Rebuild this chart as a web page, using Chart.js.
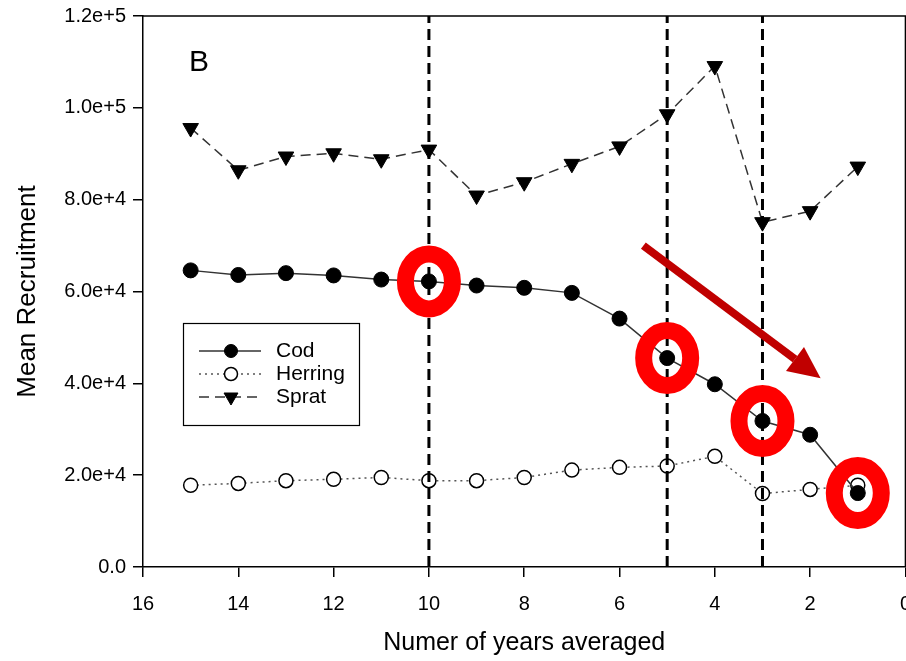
<!doctype html>
<html lang="en">
  <head>
    <meta charset="UTF-8" />
    <title>Mean Recruitment</title>
    <script src="https://cdn.jsdelivr.net/npm/chart.js"></script>
    <style>
      html, body { margin: 0; padding: 0; background: #fff; overflow: hidden; }
      .chart-container { position: relative; width: 926px; height: 661px; }
    </style>
  </head>
  <body>
    <div class="chart-container">
      <canvas id="recruitChart"></canvas>
    </div>

    <script>
      // Data
      const years = [15, 14, 13, 12, 11, 10, 9, 8, 7, 6, 5, 4, 3, 2, 1];
      const cod = [64600, 63600, 64000, 63500, 62600, 62200, 61300, 60800, 59700, 54100, 45500, 39800, 31800, 28800, 16100];
      const herring = [17800, 18200, 18800, 19100, 19500, 18800, 18800, 19500, 21100, 21700, 22000, 24100, 16000, 16900, 17800];
      const sprat = [95600, 86400, 89400, 90100, 88800, 90900, 80900, 83800, 87800, 91600, 98600, 109100, 75100, 77500, 87200];
      const xTicks = [16, 14, 12, 10, 8, 6, 4, 2, 0];
      const yTicks = [0, 20000, 40000, 60000, 80000, 100000, 120000];
      const vLines = [10, 5, 3];
      const circled = [10, 5, 3, 1];
      const arrowFrom = [5.5, 70000];
      const arrowTo = [1.78, 41100];

      Chart.defaults.font.family = "'Liberation Sans', Arial, sans-serif";
      Chart.defaults.color = "#000";

      const pts = (vals) => years.map((yr, i) => ({ x: yr, y: vals[i] }));

      const extras = {
        id: "extras",
        afterDatasetsDraw(chart) {
          const { ctx, chartArea: a, scales } = chart;
          const x = scales.x, y = scales.y;
          ctx.save();

          // top and right frame
          ctx.strokeStyle = "#000";
          ctx.lineWidth = 1.5;
          ctx.beginPath();
          ctx.moveTo(a.left, a.top);
          ctx.lineTo(a.right, a.top);
          ctx.lineTo(a.right, a.bottom);
          ctx.stroke();

          // vertical dashed markers
          ctx.lineWidth = 3;
          ctx.setLineDash([11, 6]);
          vLines.forEach((v) => {
            const px = x.getPixelForValue(v);
            ctx.beginPath();
            ctx.moveTo(px, a.bottom);
            ctx.lineTo(px, a.top);
            ctx.stroke();
          });
          ctx.setLineDash([]);

          // panel letter
          ctx.fillStyle = "#000";
          ctx.font = "30px 'Liberation Sans', Arial, sans-serif";
          ctx.textAlign = "left";
          ctx.textBaseline = "middle";
          ctx.fillText("B", a.left + 46, a.top + 47);

          // legend
          const lx = a.left + 40, ly = a.top + 307;
          ctx.lineWidth = 1.2;
          ctx.strokeStyle = "#000";
          ctx.strokeRect(lx + 0.5, ly + 0.5, 176, 102);
          const items = chart.data.datasets;
          items.forEach((ds, i) => {
            const cy = ly + 28 + i * 23;
            ctx.save();
            ctx.strokeStyle = ds.borderColor;
            ctx.lineWidth = ds.borderWidth;
            ctx.setLineDash(ds.borderDash || []);
            ctx.beginPath();
            ctx.moveTo(lx + 16, cy);
            ctx.lineTo(lx + 78, cy);
            ctx.stroke();
            ctx.restore();
            const mx = lx + 48;
            ctx.fillStyle = ds.pointBackgroundColor;
            ctx.strokeStyle = "#000";
            ctx.lineWidth = ds.pointBorderWidth;
            ctx.beginPath();
            if (ds.pointStyle === "triangle") {
              const r = 8;
              ctx.moveTo(mx - r * 0.87, cy - r * 0.5);
              ctx.lineTo(mx + r * 0.87, cy - r * 0.5);
              ctx.lineTo(mx, cy + r);
              ctx.closePath();
            } else {
              ctx.arc(mx, cy, 6.5, 0, Math.PI * 2);
            }
            ctx.fill();
            ctx.stroke();
            ctx.fillStyle = "#000";
            ctx.font = "21px 'Liberation Sans', Arial, sans-serif";
            ctx.textBaseline = "middle";
            ctx.fillText(ds.label, lx + 93, cy);
          });

          // red rings around selected cod points
          ctx.strokeStyle = "#ff0000";
          ctx.lineWidth = 17;
          circled.forEach((v) => {
            const i = years.indexOf(v);
            const px = x.getPixelForValue(v);
            const py = y.getPixelForValue(cod[i]);
            ctx.beginPath();
            ctx.ellipse(px, py, 23.5, 27.5, 0, 0, Math.PI * 2);
            ctx.stroke();
          });

          // trend arrow
          const x0 = x.getPixelForValue(arrowFrom[0]), y0 = y.getPixelForValue(arrowFrom[1]);
          const x1 = x.getPixelForValue(arrowTo[0]), y1 = y.getPixelForValue(arrowTo[1]);
          const ang = Math.atan2(y1 - y0, x1 - x0);
          const headLen = 32, headW = 15;
          const bx = x1 - headLen * Math.cos(ang), by = y1 - headLen * Math.sin(ang);
          ctx.strokeStyle = "#c00000";
          ctx.fillStyle = "#c00000";
          ctx.lineWidth = 8;
          ctx.beginPath();
          ctx.moveTo(x0, y0);
          ctx.lineTo(bx, by);
          ctx.stroke();
          ctx.beginPath();
          ctx.moveTo(x1, y1);
          ctx.lineTo(bx + headW * Math.sin(ang), by - headW * Math.cos(ang));
          ctx.lineTo(bx - headW * Math.sin(ang), by + headW * Math.cos(ang));
          ctx.closePath();
          ctx.fill();

          ctx.restore();
        },
      };

      new Chart(document.getElementById("recruitChart"), {
        type: "scatter",
        data: {
          datasets: [
            {
              label: "Cod",
              data: pts(cod),
              showLine: true,
              borderColor: "#333",
              borderWidth: 1.5,
              pointStyle: "circle",
              pointRadius: 7.5,
              pointBackgroundColor: "#000",
              pointBorderColor: "#000",
              pointBorderWidth: 1,
            },
            {
              label: "Herring",
              data: pts(herring),
              showLine: true,
              borderColor: "#555",
              borderWidth: 1.5,
              borderDash: [2, 4],
              pointStyle: "circle",
              pointRadius: 7,
              pointBackgroundColor: "#fff",
              pointBorderColor: "#000",
              pointBorderWidth: 1.5,
            },
            {
              label: "Sprat",
              data: pts(sprat),
              showLine: true,
              borderColor: "#333",
              borderWidth: 1.5,
              borderDash: [10, 6],
              pointStyle: "triangle",
              pointRotation: 180,
              pointRadius: 9,
              pointBackgroundColor: "#000",
              pointBorderColor: "#000",
              pointBorderWidth: 1,
            },
          ],
        },
        options: {
          responsive: true,
          maintainAspectRatio: false,
          animation: false,
          layout: { padding: { top: 1, left: 0, right: 0, bottom: 0 } },
          plugins: { legend: { display: false }, tooltip: { enabled: false } },
          scales: {
            x: {
              type: "linear",
              reverse: true,
              min: 0,
              max: 16,
              afterBuildTicks: (s) => { s.ticks = xTicks.map((v) => ({ value: v })); },
              ticks: { font: { size: 20 }, padding: 15, maxRotation: 0 },
              grid: { drawOnChartArea: false, tickLength: 10, color: "#000", lineWidth: 1.5 },
              border: { display: true, color: "#000", width: 1.5 },
              title: { display: true, text: "Numer of years averaged", font: { size: 25 }, padding: { top: 0, bottom: 3 } },
              afterFit: (s) => { s.height = 94; },
            },
            y: {
              min: 0,
              max: 120000,
              afterBuildTicks: (s) => { s.ticks = yTicks.map((v) => ({ value: v })); },
              ticks: {
                font: { size: 20, lineHeight: 0.9 },
                padding: 7,
                callback: (v) => (v === 0 ? "0.0" : v.toExponential(1)),
              },
              grid: { drawOnChartArea: false, tickLength: 10, color: "#000", lineWidth: 1.5 },
              border: { display: true, color: "#000", width: 1.5 },
              title: { display: true, text: "Mean Recruitment", font: { size: 26 }, padding: { top: 12, bottom: 0 } },
              afterFit: (s) => { s.width = 143; },
            },
          },
        },
        plugins: [extras],
      });
    </script>
  </body>
</html>
